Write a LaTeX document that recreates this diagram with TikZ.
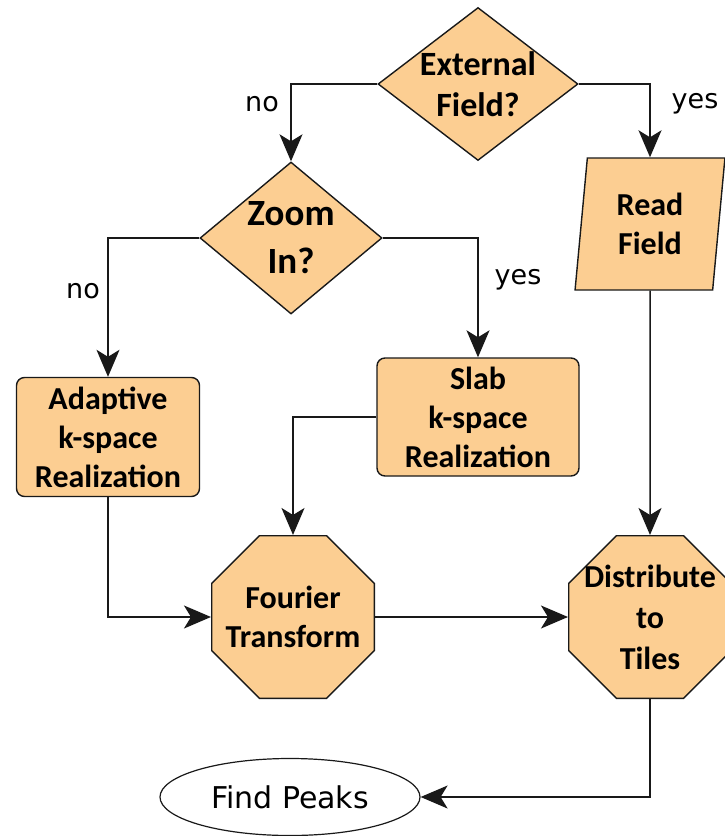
\documentclass[tikz,border=0pt]{standalone}
\usepackage{fontspec}
\setmainfont{Carlito}
\newfontfamily\lblfont{DejaVu Sans}
\usetikzlibrary{shapes.geometric,arrows.meta}
\definecolor{boxfill}{RGB}{252,206,146}
\definecolor{boxline}{RGB}{25,25,25}

\begin{document}
\begin{tikzpicture}[x=1pt,y=-1pt,
    every node/.style={align=center},
    txt/.style={font=\fontsize{32}{39}\selectfont\bfseries},
    decision/.style={diamond, draw=boxline, fill=boxfill, line width=1.4pt, inner sep=0pt},
    process/.style={rectangle, rounded corners=8pt, draw=boxline, fill=boxfill, line width=1.4pt, txt},
    octa/.style={regular polygon, regular polygon sides=8, draw=boxline, fill=boxfill, line width=1.4pt, inner sep=0pt, minimum size=176pt},
    ioput/.style={trapezium, trapezium left angle=84, trapezium right angle=96, trapezium stretches=true, draw=boxline, fill=boxfill, line width=1.4pt, txt},
    ans/.style={font=\lblfont\fontsize{27}{30}\selectfont},
    arr/.style={line width=1.5pt, draw=boxline, -{Stealth[length=27pt,width=23pt,inset=7pt]}}]
  \useasboundingbox (0,0) rectangle (724,836);

  \node[decision, minimum width=200pt, minimum height=153pt, label={[txt, font=\fontsize{34}{41}\selectfont\bfseries]center:External\\Field?}] (ext) at (478,84) {};
  \node[decision, minimum width=182pt, minimum height=152pt, label={[txt, font=\fontsize{37}{48}\selectfont\bfseries]center:Zoom\\In?}] (zoom) at (291,238) {};
  \node[ioput, minimum width=150pt, minimum height=132pt] (read) at (650,224) {Read\\Field};
  \node[process, minimum width=183pt, minimum height=119pt] (adapt) at (108,437) {Adaptive\\k-space\\Realization};
  \node[process, minimum width=202pt, minimum height=118pt] (slab) at (478,417) {Slab\\k-space\\Realization};
  \node[octa, label={[txt]center:Fourier\\Transform}] (fourier) at (293,617) {};
  \node[octa, label={[txt, font=\fontsize{32}{41}\selectfont\bfseries]center:Distribute\\to\\Tiles}] (dist) at (650,617) {};
  \node[ellipse, draw=boxline, fill=white, line width=1.2pt, minimum width=260pt, minimum height=77pt, inner sep=0pt, font=\lblfont\fontsize{30}{34}\selectfont] (peaks) at (290,797) {Find Peaks};

  \node[ans] (no1) at (262,104) {no};
  \node[ans] (yes1) at (695,104) {yes};
  \node[ans] (no2) at (83,291) {no};
  \node[ans] (yes2) at (518,280) {yes};

  \draw[arr] (ext.west) -| (zoom.north);
  \draw[arr] (ext.east) -| (read.north);
  \draw[arr] (zoom.west) -| (adapt.north);
  \draw[arr] (zoom.east) -| (slab.north);
  \draw[arr] (slab.west) -| (fourier.north);
  \draw[arr] (adapt.south) |- (fourier.west);
  \draw[arr] (fourier.east) -- (dist.west);
  \draw[arr] (read.south) -- (dist.north);
  \draw[arr] (dist.south) |- (peaks.east);
\end{tikzpicture}
\end{document}
